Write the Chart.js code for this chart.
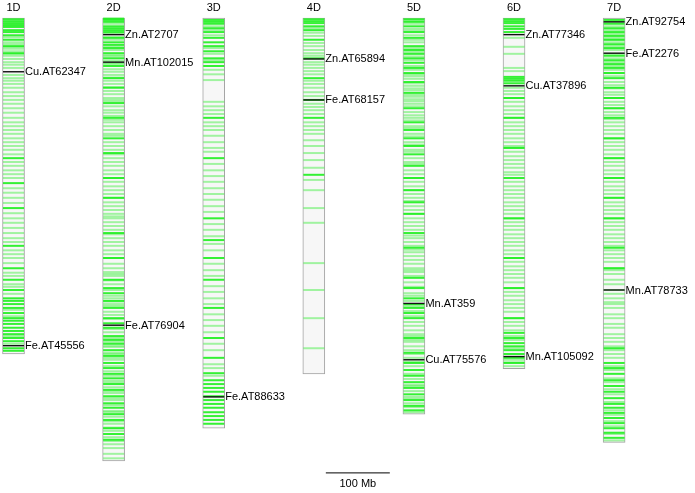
<!DOCTYPE html>
<html>
<head>
<meta charset="utf-8">
<script src="https://cdn.jsdelivr.net/npm/chart.js@4.4.0/dist/chart.umd.min.js"></script>
<style>
  body { margin: 0; background: #fff; }
  #wrap { width: 695px; height: 493px; }
</style>
</head>
<body>
<div id="wrap"><canvas id="map" width="695" height="493"></canvas></div>
<script>
// chromosome names and lengths (Mb)
const chromosomes = ['1D', '2D', '3D', '4D', '5D', '6D', '7D'];
const lengthsMb = [525, 692, 641, 556, 619, 548, 663];

// SNP positions (Mb) - dense/bright ones and faint ones
const strongSnps = [
  [2,5,8,11,14,19,22,27,34,44,55,219,258,297,356,391,409,425,438,442,447,453,461,469,473,478,484,489,494,500,505,516,520],
  [1,3,6,13,16,19,22,31,38,42,47,55,63,75,94,109,133,156,188,211,250,281,336,375,409,422,430,442,453,469,477,484,497,503,509,519,528,539,547,556,563,572,581,591,602,609,619,628,641,650,659],
  [3,6,9,16,22,31,38,44,52,63,69,75,156,219,313,347,375,409,453,500,531,555,566,572,578,584,591,597,603,609,616,622,628,634],
  [2,5,8,13,19,34,63,94,128,156,245],
  [2,6,13,22,31,44,50,56,63,70,78,86,100,117,141,163,175,188,200,213,231,250,269,288,306,336,359,406,422,438,447,453,461,469,500,523,539,550,559,569,578,588,597,606,613],
  [2,5,8,13,17,22,92,95,98,102,125,156,203,250,313,375,422,469,492,500,508,513,519,525,531,539],
  [3,9,16,22,28,34,41,47,59,66,72,78,86,94,109,125,141,156,188,219,250,281,313,359,391,516,539,547,556,566,575,584,594,603,609,617,625,633,641,648,656]
];
const faintSnps = [
  [30,38,41,45,48,52,56,59,64,69,73,78,89,94,98,103,109,116,122,128,134,141,148,156,163,169,175,181,188,194,200,206,213,225,231,238,244,250,266,273,281,289,305,313,320,328,336,344,350,363,369,375,383,398,403,416,420,431,456,466,497,509],
  [9,25,30,34,45,50,58,60,67,70,72,80,84,89,93,98,103,108,114,119,125,128,131,138,144,148,153,159,163,169,175,181,184,194,200,206,213,219,225,231,238,244,250,256,263,269,275,281,288,294,300,306,310,313,319,325,331,338,344,350,356,363,369,375,384,391,397,400,403,410,416,425,434,438,443,447,450,459,464,470,486,491,500,506,512,514,523,525,531,534,544,552,559,567,570,577,583,586,594,597,605,614,616,623,630,634,640,645,655,661,666,672,681,688],
  [13,19,27,47,56,66,81,88,97,131,138,144,150,163,169,175,184,194,203,209,228,238,247,256,266,275,284,294,303,322,331,341,353,363,384,394,403,419,428,438,447,463,472,481,491,509,519,541,547,559],
  [16,23,28,39,44,50,55,59,69,73,78,83,88,98,103,109,116,122,134,139,144,150,163,169,175,181,191,200,211,222,234,253,269,297,320,383,425,469,516],
  [4,9,17,20,27,34,38,47,53,60,66,75,81,88,91,95,102,106,110,113,120,123,127,130,134,138,147,152,156,160,169,172,181,185,194,198,206,209,219,225,228,238,244,250,256,263,269,275,281,286,294,300,306,313,319,325,331,340,344,350,356,362,366,372,378,384,391,394,397,403,413,420,430,434,442,450,458,466,475,481,488,494,497,503,506,513,519,525,531,537,544,556,564,573,575,583,592,595,602,608,616],
  [31,45,56,78,83,109,114,119,125,131,138,144,150,156,163,169,175,181,188,194,200,203,209,216,222,228,234,241,245,256,263,269,275,281,288,294,300,306,313,319,325,331,338,344,350,356,363,369,375,381,388,394,400,406,413,422,428,434,441,447,453,459,469,475,481,488,497,503,516,534,538,544],
  [6,13,19,25,31,34,38,44,50,56,63,69,75,81,86,91,100,105,110,116,120,125,131,136,141,147,152,158,163,169,175,181,188,194,200,206,213,219,225,231,238,244,250,256,263,269,275,281,288,294,300,306,313,319,325,331,338,344,350,356,363,369,375,381,391,394,400,409,416,425,431,438,444,447,453,463,469,478,484,494,500,506,513,519,525,531,544,550,563,569,580,588,600,613,620,630,638,650,660]
];

// QTL markers (name, position Mb)
const qtlNames = [
  ['Cu.AT62347', 'Fe.AT45556'],
  ['Zn.AT2707', 'Mn.AT102015', 'Fe.AT76904'],
  ['Fe.AT88633'],
  ['Zn.AT65894', 'Fe.AT68157'],
  ['Mn.AT359', 'Cu.AT75576'],
  ['Zn.AT77346', 'Cu.AT37896', 'Mn.AT105092'],
  ['Zn.AT92754', 'Fe.AT2276', 'Mn.AT78733']
];
const qtlPos = [
  [84, 512],
  [26, 69, 480],
  [592],
  [64, 128],
  [446, 534],
  [26, 106, 529],
  [6, 55, 425]
];
const scaleBarMb = 100;

function toPoints(lists) {
  const pts = [];
  lists.forEach((list, i) => list.forEach(v => pts.push({ x: i, y: v })));
  return pts;
}

const labelPlugin = {
  id: 'chromLabels',
  afterDatasetsDraw(chart) {
    const ctx = chart.ctx;
    const xs = chart.scales.x, ys = chart.scales.y;
    const top = ys.getPixelForValue(0);
    ctx.save();
    ctx.fillStyle = '#000';
    ctx.font = '11px "Liberation Sans", Arial, sans-serif';
    ctx.textBaseline = 'middle';
    ctx.textAlign = 'center';
    chromosomes.forEach((c, i) => {
      ctx.fillText(c, xs.getPixelForValue(i), top - 10);
    });
    ctx.textAlign = 'left';
    qtlNames.forEach((names, i) => {
      const x = xs.getPixelForValue(i) + 11.5;
      names.forEach((n, k) => {
        ctx.fillText(n, x, ys.getPixelForValue(qtlPos[i][k]) + 0.5);
      });
    });
    // scale bar
    const bx = xs.getPixelForValue(3.12);
    const by = ys.getPixelForValue(710);
    const len = ys.getPixelForValue(scaleBarMb) - ys.getPixelForValue(0);
    ctx.strokeStyle = '#000';
    ctx.lineWidth = 1;
    ctx.beginPath();
    ctx.moveTo(bx, by + 0.5);
    ctx.lineTo(bx + len, by + 0.5);
    ctx.stroke();
    ctx.textAlign = 'center';
    ctx.fillText(scaleBarMb + ' Mb', bx + len / 2, by + 12);
    ctx.restore();
  }
};

new Chart(document.getElementById('map'), {
  type: 'scatter',
  data: {
    datasets: [
      {
        type: 'bar',
        label: 'chromosome',
        data: chromosomes.map((c, i) => ({ x: i, y: [0, lengthsMb[i]] })),
        backgroundColor: '#f7f7f7',
        borderColor: '#a3a3a3',
        borderWidth: 1,
        borderSkipped: false,
        barThickness: 22,
        order: 4
      },
      {
        label: 'faint',
        data: toPoints(faintSnps),
        pointStyle: 'line',
        pointRadius: 10.5,
        pointHoverRadius: 10.5,
        borderColor: 'rgba(40,238,40,0.42)',
        borderWidth: 2,
        order: 3
      },
      {
        label: 'strong',
        data: toPoints(strongSnps),
        pointStyle: 'line',
        pointRadius: 10.5,
        pointHoverRadius: 10.5,
        borderColor: 'rgba(30,240,30,0.9)',
        borderWidth: 2,
        order: 2
      },
      {
        label: 'qtl',
        data: toPoints(qtlPos),
        pointStyle: 'line',
        pointRadius: 10.5,
        pointHoverRadius: 10.5,
        borderColor: '#111',
        borderWidth: 1.4,
        order: 1
      }
    ]
  },
  options: {
    responsive: false,
    animation: false,
    events: [],
    layout: { autoPadding: false, padding: 0 },
    plugins: { legend: { display: false }, tooltip: { enabled: false } },
    scales: {
      x: { type: 'linear', display: false, min: -0.135, max: 6.808, offset: false },
      y: { type: 'linear', display: false, reverse: true, min: -28.125, max: 742.19 }
    }
  },
  plugins: [labelPlugin]
});
</script>
</body>
</html>
